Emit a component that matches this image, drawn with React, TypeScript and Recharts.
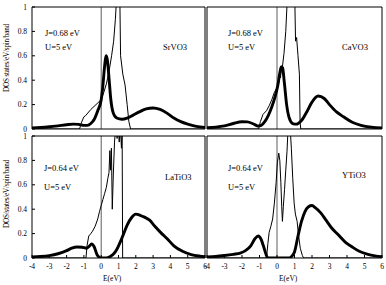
// Four-panel DOS comparison (SrVO3, CaVO3, LaTiO3, YTiO3): DMFT spectra (thick) over LDA DOS (thin).
import { LineChart, Line, XAxis, YAxis, ReferenceLine } from "recharts";

const W = 386;
const H = 285;
const FONT = '"Liberation Serif", "Times New Roman", serif';

const xTicks = [-4, -3, -2, -1, 0, 1, 2, 3, 4, 5, 6];
const yTicks = [0, 0.2, 0.4, 0.6, 0.8, 1];

// SrVO3
const srvo3DmftE = [-4, -3.5, -3, -2.5, -2, -1.6, -1.3, -1.0, -0.8, -0.6, -0.4, -0.2, 0, 0.1, 0.2, 0.28, 0.35, 0.45, 0.55, 0.7, 0.9, 1.2, 1.5, 1.8, 2.2, 2.6, 3.0, 3.4, 3.8, 4.2, 4.6, 5.0, 5.5, 6];
const srvo3DmftDos = [0.008, 0.012, 0.018, 0.026, 0.035, 0.04, 0.038, 0.03, 0.03, 0.045, 0.08, 0.15, 0.24, 0.36, 0.52, 0.6, 0.57, 0.42, 0.25, 0.13, 0.09, 0.08, 0.09, 0.11, 0.14, 0.165, 0.172, 0.16, 0.13, 0.09, 0.06, 0.04, 0.022, 0.012];
const srvo3LdaE = [-4, -1.25, -1.15, -1.0, -0.9, -0.6, -0.3, 0, 0.15, 0.3, 0.45, 0.6, 0.72, 0.82, 0.9, 1.0, 1.08, 1.12, 1.25, 1.38, 1.5, 1.6, 1.7, 6];
const srvo3LdaDos = [0, 0, 0.05, 0.1, 0.11, 0.16, 0.2, 0.24, 0.3, 0.37, 0.47, 0.6, 0.72, 0.9, 1.1, 1.2, 1.05, 0.6, 0.45, 0.36, 0.2, 0.06, 0, 0];

// CaVO3
const cavo3DmftE = [-4, -3.5, -3, -2.5, -2, -1.7, -1.4, -1.1, -0.9, -0.7, -0.5, -0.3, -0.1, 0.05, 0.15, 0.25, 0.32, 0.42, 0.55, 0.7, 0.9, 1.1, 1.4, 1.7, 2.0, 2.35, 2.7, 3.0, 3.4, 3.8, 4.3, 4.8, 5.4, 6];
const cavo3DmftDos = [0.01, 0.015, 0.025, 0.045, 0.06, 0.058, 0.045, 0.025, 0.03, 0.06, 0.11, 0.18, 0.27, 0.36, 0.45, 0.51, 0.5, 0.38, 0.2, 0.09, 0.045, 0.04, 0.07, 0.14, 0.22, 0.27, 0.25, 0.2, 0.14, 0.1, 0.055, 0.03, 0.015, 0.008];
const cavo3LdaE = [-4, -1.05, -0.95, -0.8, -0.6, -0.45, -0.3, -0.15, 0, 0.1, 0.15, 0.2, 0.25, 0.3, 0.4, 0.5, 0.6, 0.7, 0.78, 0.85, 0.92, 1.0, 1.06, 1.12, 1.2, 1.28, 1.32, 1.36, 6];
const cavo3LdaDos = [0, 0, 0.06, 0.12, 0.15, 0.19, 0.24, 0.3, 0.34, 0.38, 0.46, 0.42, 0.5, 0.5, 0.62, 0.8, 1.1, 1.3, 1.05, 1.3, 1.1, 1.2, 0.72, 0.75, 0.6, 0.45, 0.05, 0, 0];

// LaTiO3
const latio3DmftE = [-4, -3.5, -3, -2.5, -2, -1.7, -1.4, -1.1, -0.85, -0.7, -0.55, -0.4, -0.25, -0.1, 0, 0.3, 0.5, 0.7, 0.9, 1.1, 1.3, 1.5, 1.75, 2.0, 2.25, 2.5, 2.8, 3.1, 3.5, 3.8, 4.2, 4.7, 5.2, 5.7, 6];
const latio3DmftDos = [0.008, 0.012, 0.02, 0.035, 0.06, 0.08, 0.09, 0.088, 0.08, 0.095, 0.115, 0.09, 0.03, 0.005, 0, 0, 0.01, 0.03, 0.07, 0.13, 0.2, 0.27, 0.33, 0.36, 0.35, 0.335, 0.31, 0.26, 0.2, 0.16, 0.1, 0.055, 0.028, 0.015, 0.01];
const latio3LdaE = [-4, -0.88, -0.82, -0.72, -0.6, -0.5, -0.35, -0.2, -0.1, 0, 0.1, 0.2, 0.3, 0.38, 0.45, 0.5, 0.54, 0.59, 0.64, 0.7, 0.77, 0.85, 0.92, 0.98, 1.04, 1.1, 1.17, 1.21, 1.24, 6];
const latio3LdaDos = [0, 0, 0.1, 0.18, 0.2, 0.22, 0.26, 0.32, 0.38, 0.43, 0.48, 0.53, 0.58, 0.65, 0.7, 0.88, 0.72, 0.9, 0.4, 0.68, 0.95, 1.1, 0.98, 1.15, 0.95, 1.1, 0.9, 1.05, 0, 0];

// YTiO3
const ytio3DmftE = [-4, -3.5, -3, -2.5, -2.1, -1.8, -1.5, -1.25, -1.07, -0.9, -0.78, -0.65, -0.55, -0.45, 0.7, 0.85, 1.0, 1.2, 1.4, 1.6, 1.8, 2.0, 2.2, 2.5, 2.8, 3.1, 3.5, 3.9, 4.3, 4.7, 5.2, 5.6, 6];
const ytio3DmftDos = [0.008, 0.012, 0.02, 0.03, 0.04, 0.06, 0.1, 0.16, 0.18, 0.15, 0.1, 0.04, 0.005, 0, 0, 0.015, 0.05, 0.18, 0.3, 0.38, 0.42, 0.43, 0.41, 0.37, 0.31, 0.25, 0.19, 0.13, 0.09, 0.055, 0.03, 0.018, 0.01];
const ytio3LdaE = [-4, -0.6, -0.52, -0.45, -0.35, -0.25, -0.15, -0.05, 0.02, 0.1, 0.16, 0.22, 0.27, 0.31, 0.36, 0.43, 0.5, 0.57, 0.63, 0.7, 0.76, 0.82, 0.9, 0.98, 1.05, 1.15, 1.22, 1.33, 1.45, 1.52, 6];
const ytio3LdaDos = [0, 0, 0.12, 0.21, 0.26, 0.32, 0.45, 0.62, 0.78, 0.86, 0.8, 0.62, 0.42, 0.3, 0.42, 0.56, 0.72, 0.87, 1.05, 1.1, 1.05, 0.9, 0.65, 0.45, 0.36, 0.3, 0.2, 0.08, 0.02, 0, 0];

const toPoints = (e: number[], dos: number[]) => e.map((x, i) => ({ e: x, dos: dos[i] }));

const AXIS = { stroke: "#000", strokeWidth: 1 };
const TICK = { fontSize: 7.5, fill: "#000", fontFamily: FONT };

type Box = { x0: number; x1: number; y0: number; y1: number };

function Panel({ box, dmft, lda, xLabels, yLabels }: {
  box: Box; dmft: { e: number; dos: number }[]; lda: { e: number; dos: number }[]; xLabels: boolean; yLabels: boolean;
}) {
  return (
    <div style={{ position: "absolute", left: 0, top: 0 }}>
      <LineChart
        width={W}
        height={H}
        margin={{ top: box.y0 - 1, bottom: H - box.y1 - 1, left: box.x0 - 1, right: W - box.x1 - 1 }}
      >
        <XAxis xAxisId="b" dataKey="e" type="number" domain={[-4, 6]} ticks={xTicks} interval={0} allowDataOverflow
          height={1} tickSize={-3} tickMargin={9} tick={xLabels ? TICK : false} axisLine={AXIS} tickLine={AXIS} />
        <XAxis xAxisId="t" orientation="top" dataKey="e" type="number" domain={[-4, 6]} ticks={xTicks} interval={0} allowDataOverflow
          height={1} tickSize={-3} tick={false} axisLine={AXIS} tickLine={AXIS} />
        <YAxis yAxisId="l" type="number" domain={[0, 1]} ticks={yTicks} interval={0} allowDataOverflow
          width={1} tickSize={-3} tickMargin={8} tick={yLabels ? TICK : false} axisLine={AXIS} tickLine={AXIS} />
        <YAxis yAxisId="r" orientation="right" type="number" domain={[0, 1]} ticks={yTicks} interval={0} allowDataOverflow
          width={1} tickSize={-3} tick={false} axisLine={AXIS} tickLine={AXIS} />
        <ReferenceLine xAxisId="b" yAxisId="l" x={0} stroke="#333" strokeWidth={0.8} />
        <Line xAxisId="b" yAxisId="l" data={lda} dataKey="dos" type="linear" stroke="#000" strokeWidth={1}
          dot={false} isAnimationActive={false} />
        <Line xAxisId="b" yAxisId="l" data={dmft} dataKey="dos" type="monotone" stroke="#000" strokeWidth={2.9}
          dot={false} isAnimationActive={false} />
      </LineChart>
    </div>
  );
}

function Note({ x, y, text, size = 8.5 }: { x: number; y: number; text: string; size?: number }) {
  return (
    <div style={{ position: "absolute", left: x, top: y, fontSize: size, fontFamily: FONT, whiteSpace: "nowrap", lineHeight: 1, color: "#000" }}>
      {text}
    </div>
  );
}

function VLabel({ x, y, text }: { x: number; y: number; text: string }) {
  return (
    <div style={{
      position: "absolute", left: x, top: y, transform: "translate(-50%, -50%) rotate(-90deg)",
      fontSize: 7.2, fontFamily: FONT, whiteSpace: "nowrap", lineHeight: 1, color: "#000", letterSpacing: -0.2,
    }}>
      {text}
    </div>
  );
}

export default function App() {
  return (
    <div style={{ position: "absolute", left: 0, top: 0, width: W, height: H, background: "#fff", overflow: "hidden" }}>
      <Panel box={{ x0: 32, x1: 205, y0: 7, y1: 129 }} dmft={toPoints(srvo3DmftE, srvo3DmftDos)} lda={toPoints(srvo3LdaE, srvo3LdaDos)} xLabels={false} yLabels />
      <Panel box={{ x0: 207, x1: 382, y0: 7, y1: 129 }} dmft={toPoints(cavo3DmftE, cavo3DmftDos)} lda={toPoints(cavo3LdaE, cavo3LdaDos)} xLabels={false} yLabels={false} />
      <Panel box={{ x0: 32, x1: 205, y0: 136, y1: 258 }} dmft={toPoints(latio3DmftE, latio3DmftDos)} lda={toPoints(latio3LdaE, latio3LdaDos)} xLabels yLabels />
      <Panel box={{ x0: 207, x1: 382, y0: 136, y1: 258 }} dmft={toPoints(ytio3DmftE, ytio3DmftDos)} lda={toPoints(ytio3LdaE, ytio3LdaDos)} xLabels yLabels={false} />

      <Note x={45} y={29} text="J=0.68 eV" />
      <Note x={45} y={43} text="U=5 eV" />
      <Note x={163} y={43} text="SrVO3" />
      <Note x={228} y={29} text="J=0.68 eV" />
      <Note x={228} y={43} text="U=5 eV" />
      <Note x={342} y={43} text="CaVO3" />
      <Note x={44} y={164} text="J=0.64 eV" />
      <Note x={44} y={183} text="U=5 eV" />
      <Note x={165} y={173} text="LaTiO3" />
      <Note x={228} y={164} text="J=0.64 eV" />
      <Note x={228} y={183} text="U=5 eV" />
      <Note x={342} y={171} text="YTiO3" />

      <VLabel x={8} y={58} text="DOS states/eV/spin/band" />
      <VLabel x={8} y={194} text="DOS/states/eV/spin/band" />
      <Note x={103} y={275} text="E(eV)" size={7.5} />
      <Note x={279} y={275} text="E(eV)" size={7.5} />
    </div>
  );
}
